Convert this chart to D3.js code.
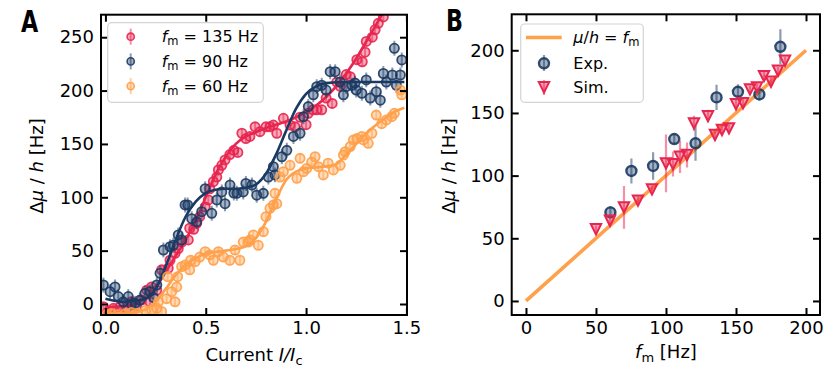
<!DOCTYPE html>
<html>
<head>
<meta charset="utf-8">
<script src="https://cdn.jsdelivr.net/npm/d3@7"></script>
<style>
  body { margin: 0; background: #fff; }
  text { font-family: "DejaVu Sans", sans-serif; }
</style>
</head>
<body>
<div id="viz"></div>
<script>
// panel A: Δμ/h vs current, three modulation frequencies  [x = I/Ic, y = Hz]
var red135 = [[-0.01,-2.5],[0.015,-7],[0.04,-4],[0.073,-2.5],[0.106,-4],[0.13,2],[0.156,-2.5],[0.18,3.7],
  [0.206,13],[0.222,2],[0.23,16],[0.256,13],[0.28,32],[0.313,33.5],[0.322,41],[0.347,47.5],[0.363,52],
  [0.38,58],[0.413,60],[0.42,71],[0.44,70],[0.455,75.6],[0.47,81.8],[0.497,91],[0.513,97.5],[0.52,108],
  [0.538,114.6],[0.555,119],[0.563,125.6],[0.58,130],[0.596,135],[0.62,140],[0.64,144],[0.66,142],
  [0.68,160],[0.70,155],[0.72,157],[0.746,166],[0.77,161.5],[0.80,166],[0.82,166],[0.837,167.7],
  [0.854,160],[0.887,174],[0.92,167.7],[0.945,166],[0.97,175],[1.0,168],[1.011,178.7],[1.035,182],
  [1.053,182],[1.078,182],[1.10,193],[1.13,188],[1.153,208],[1.17,204],[1.2,215],[1.22,213],[1.253,229],
  [1.28,227],[1.294,236],[1.30,246],[1.33,250],[1.344,257],[1.36,263],[1.385,269]];
var navy90 = [[-0.01,17.8],[0.023,11.5],[0.048,16],[0.064,7],[0.089,2],[0.114,7],[0.13,0],[0.148,0.6],
  [0.172,3.7],[0.197,10],[0.222,11.5],[0.24,6],[0.256,17.8],[0.272,28.8],[0.289,50.6],[0.322,53.7],
  [0.338,55],[0.363,64.7],[0.38,60],[0.397,92.8],[0.41,92.8],[0.43,80],[0.455,77],[0.48,86.5],[0.497,108],
  [0.53,85],[0.555,97.5],[0.58,105],[0.596,94],[0.621,111.5],[0.64,104],[0.655,103.7],[0.687,105],
  [0.70,113],[0.73,111.5],[0.754,102],[0.787,103.7],[0.812,119],[0.837,128.7],[0.845,121],[0.879,138],
  [0.904,144],[0.937,157],[0.97,160],[0.987,175.5],[1.011,185],[1.036,196],[1.053,203.7],[1.078,205],
  [1.10,200.5],[1.12,217.7],[1.145,217.7],[1.17,208],[1.186,196],[1.20,203.7],[1.228,205],[1.244,207],
  [1.25,200.5],[1.278,197.5],[1.30,210],[1.32,193],[1.35,199],[1.37,191],[1.385,216],[1.40,208],
  [1.43,214.6],[1.44,239.6],[1.45,205],[1.47,214.6],[1.477,228.7]];
var orange60 = [[0.006,-10],[0.03,-9],[0.06,-10],[0.1,-9],[0.13,-8],[0.16,-8.7],[0.2,-6],[0.23,-5.6],
  [0.256,-4],[0.264,2],[0.28,-7],[0.305,5],[0.31,25.6],[0.33,11.5],[0.347,2],[0.355,16],[0.36,25.6],
  [0.38,35],[0.397,36.5],[0.42,32],[0.425,41],[0.447,39.7],[0.47,44],[0.497,49],[0.52,46],[0.538,41],
  [0.563,49],[0.588,44],[0.62,41],[0.646,50.6],[0.67,41],[0.687,58],[0.712,58],[0.72,60],[0.737,64.7],
  [0.762,55],[0.787,67.8],[0.80,81.8],[0.82,89.7],[0.837,92.8],[0.845,103.7],[0.854,94],[0.87,119],
  [0.887,124],[0.92,130],[0.954,117.8],[0.97,136.5],[0.987,124],[1.003,127],[1.028,133],[1.045,138],
  [1.061,128.7],[1.086,121],[1.11,132],[1.136,125.6],[1.17,130],[1.186,139.6],[1.195,142.7],[1.22,147.5],
  [1.236,153.7],[1.253,155],[1.278,157],[1.286,153.7],[1.31,150.6],[1.328,160],[1.35,177],[1.377,169],
  [1.40,172.5],[1.427,175.5],[1.44,178.7],[1.47,200.5],[1.477,196]];
// fit curves
var red135Fit = [[0,-3],[0.1,-2],[0.17,2],[0.22,8],[0.25,15],[0.3,30],[0.35,45],[0.4,60],[0.45,78],[0.5,100],
  [0.55,122],[0.6,138],[0.65,150],[0.7,157],[0.75,161],[0.8,165],[0.85,168],[0.9,171],[0.95,175],[1.0,180],
  [1.05,186],[1.1,194],[1.15,204],[1.2,216],[1.25,230],[1.3,246],[1.35,262],[1.4,278]];
var navy90Fit = [[0,5],[0.1,2],[0.2,5],[0.25,14],[0.3,35],[0.35,60],[0.4,82],[0.45,96],[0.5,104],[0.55,107],
  [0.6,108],[0.65,108],[0.7,109],[0.75,112],[0.8,122],[0.85,140],[0.9,162],[0.95,183],[1.0,197],[1.05,204],
  [1.1,207],[1.2,208],[1.3,208],[1.4,208],[1.49,208]];
var orange60Fit = [[0,-9],[0.1,-9],[0.15,-8],[0.2,-5],[0.25,2],[0.3,14],[0.35,27],[0.4,37],[0.45,43],[0.5,47],
  [0.6,50],[0.7,54],[0.75,62],[0.8,77],[0.85,98],[0.9,116],[0.95,124],[1.0,127],[1.05,128],[1.1,129],
  [1.15,131],[1.2,140],[1.25,150],[1.3,160],[1.35,168],[1.4,175],[1.45,181],[1.49,184]];
var errA = { red: 4, navy: 7, orange: 4 };
var legendA = ['135', '90', '60'];
var ticksAx = [0, 0.5, 1.0, 1.5],
    ticksAy = [0, 50, 100, 150, 200, 250];

// panel B: Δμ/h vs f_m
var expF   = [60.3, 75.3, 90.8, 105.9, 121.1, 136.1, 151.4, 166.7, 181.7],
    expMu  = [70.7, 103.7, 107.7, 129.2, 125.8, 162.4, 166.9, 164.8, 202.8],
    expErr = [5, 10, 11, 4, 14, 10, 6, 5, 14];
var simF   = [50, 60, 70, 80, 90, 100, 105, 110, 115, 120, 130, 135, 140, 145, 150, 155, 160, 165, 170, 175, 180, 185],
    simMu  = [57.2, 64, 74.7, 80, 89, 109.8, 109.2, 115, 116.4, 141.7, 147.5, 132.4, 136.4, 137.7, 156.9, 157.7,
              168.8, 170.4, 179.4, 174.9, 183.7, 191.6],
    simErr = [3, 4, 17, 4, 3, 23, 10, 13, 10, 6, 5, 3, 3, 3, 4, 4, 3, 3, 4, 3, 3, 3];
var lineF = [0, 200];
var ticksBx = [0, 50, 100, 150, 200],
    ticksBy = [0, 50, 100, 150, 200];

var RED = '#E8254F', NAVY = '#1B3A63', ORANGE = '#FFA04A';

var svg = d3.select('#viz').append('svg')
    .attr('width', 829)
    .attr('height', 369);

var xA = d3.scaleLinear().domain([-0.022, 1.503]).range([101, 407]),
    yA = d3.scaleLinear().domain([-10.3, 271.1]).range([315, 14.7]),
    xB = d3.scaleLinear().domain([-10.2, 210]).range([511.7, 820]),
    yB = d3.scaleLinear().domain([-11.2, 228.7]).range([315, 14.3]);

function clipFor(id, x, y) {
    svg.append('clipPath').attr('id', id).append('rect')
        .attr('x', x.range()[0]).attr('y', y.range()[1])
        .attr('width', x.range()[1] - x.range()[0])
        .attr('height', y.range()[0] - y.range()[1]);
}
clipFor('clipA', xA, yA);
clipFor('clipB', xB, yB);

function frame(x, y, xt, yt, fmt) {
    var g = svg.append('g');
    var styleAxis = function (a) {
        a.select('.domain').remove();
        a.selectAll('line').attr('stroke', '#000').attr('stroke-width', 2);
        a.selectAll('text').attr('fill', '#000');
        a.attr('font-family', 'DejaVu Sans').attr('font-size', 18);
    };
    g.append('g').attr('transform', 'translate(0,' + y.range()[0] + ')')
        .call(d3.axisBottom(x).tickValues(xt).tickSize(-7).tickPadding(6).tickFormat(fmt)).call(styleAxis);
    g.append('g').attr('transform', 'translate(0,' + y.range()[1] + ')')
        .call(d3.axisTop(x).tickValues(xt).tickSize(-7).tickFormat('')).call(styleAxis);
    g.append('g').attr('transform', 'translate(' + x.range()[0] + ',0)')
        .call(d3.axisLeft(y).tickValues(yt).tickSize(-7).tickPadding(7)).call(styleAxis);
    g.append('g').attr('transform', 'translate(' + x.range()[1] + ',0)')
        .call(d3.axisRight(y).tickValues(yt).tickSize(-7).tickFormat('')).call(styleAxis);
    g.append('rect')
        .attr('x', x.range()[0]).attr('y', y.range()[1])
        .attr('width', x.range()[1] - x.range()[0])
        .attr('height', y.range()[0] - y.range()[1])
        .attr('fill', 'none').attr('stroke', '#000').attr('stroke-width', 2);
}

function errBars(g, pts, color, w) {
    g.selectAll(null).data(pts).enter().append('line')
        .attr('x1', function (d) { return d.x; }).attr('x2', function (d) { return d.x; })
        .attr('y1', function (d) { return d.y0; }).attr('y2', function (d) { return d.y1; })
        .attr('stroke', color).attr('stroke-opacity', 0.5).attr('stroke-width', w);
}

function circles(g, pts, color, r, sw) {
    g.selectAll(null).data(pts).enter().append('circle')
        .attr('cx', function (d) { return d.x; })
        .attr('cy', function (d) { return d.y; })
        .attr('r', r)
        .attr('fill', color).attr('fill-opacity', 0.38)
        .attr('stroke', color).attr('stroke-opacity', 0.9).attr('stroke-width', sw);
}

function triPath(s) {
    return 'M' + (-s) + ',' + (-s) + 'L' + s + ',' + (-s) + 'L0,' + s + 'Z';
}

function triangles(g, pts, color, s) {
    g.selectAll(null).data(pts).enter().append('path')
        .attr('d', triPath(s))
        .attr('transform', function (d) { return 'translate(' + d.x + ',' + d.y + ')'; })
        .attr('fill', color).attr('fill-opacity', 0.4)
        .attr('stroke', color).attr('stroke-width', 2).attr('stroke-linejoin', 'miter');
}

// ---------- panel A ----------
var plotA = svg.append('g').attr('clip-path', 'url(#clipA)');
var fitLine = d3.line()
    .x(function (d) { return xA(d[0]); })
    .y(function (d) { return yA(d[1]); })
    .curve(d3.curveMonotoneX);

var seriesA = [
    { data: red135, fit: red135Fit, color: RED, err: errA.red },
    { data: navy90, fit: navy90Fit, color: NAVY, err: errA.navy },
    { data: orange60, fit: orange60Fit, color: ORANGE, err: errA.orange }
];
seriesA.forEach(function (s) {
    var pts = s.data.map(function (d) {
        return { x: xA(d[0]), y: yA(d[1]), y0: yA(d[1] - s.err), y1: yA(d[1] + s.err) };
    });
    errBars(plotA, pts, s.color, 2);
    circles(plotA, pts, s.color, 4.6, 1.8);
    plotA.append('path').datum(s.fit)
        .attr('d', fitLine)
        .attr('fill', 'none').attr('stroke', s.color).attr('stroke-width', 2.6);
});

frame(xA, yA, ticksAx, ticksAy, d3.format('.1f'));

// legend A
var legA = svg.append('g');
legA.append('rect').attr('x', 107.7).attr('y', 22.7).attr('width', 155.6).attr('height', 79.6)
    .attr('rx', 4).attr('fill', '#fff').attr('fill-opacity', 0.8)
    .attr('stroke', '#d4d4d4').attr('stroke-width', 1.2);
[RED, NAVY, ORANGE].forEach(function (c, i) {
    var cy = 36.7 + i * 24.7;
    errBars(legA, [{ x: 130.7, y0: cy - 8, y1: cy + 8 }], c, 2);
    circles(legA, [{ x: 130.7, y: cy }], c, 3.6, 1.6);
    var t = legA.append('text').attr('x', 161.7).attr('y', cy).attr('dy', '0.36em').attr('font-size', 16);
    t.append('tspan').attr('font-style', 'italic').text('f');
    t.append('tspan').attr('font-size', 11.5).attr('baseline-shift', '-3').text('m');
    t.append('tspan').text(' = ' + legendA[i] + ' Hz');
});

// ---------- panel B ----------
var plotB = svg.append('g').attr('clip-path', 'url(#clipB)');
plotB.append('path').datum(lineF)
    .attr('d', d3.line().x(function (d) { return xB(d); }).y(function (d) { return yB(d); }))
    .attr('fill', 'none').attr('stroke', ORANGE).attr('stroke-width', 3.6);

var expPts = expF.map(function (f, i) {
    return { x: xB(f), y: yB(expMu[i]), y0: yB(expMu[i] - expErr[i]), y1: yB(expMu[i] + expErr[i]) };
});
var simPts = simF.map(function (f, i) {
    return { x: xB(f), y: yB(simMu[i]), y0: yB(simMu[i] - simErr[i]), y1: yB(simMu[i] + simErr[i]) };
});
errBars(plotB, expPts, NAVY, 2.2);
circles(plotB, expPts, NAVY, 5, 2.4);
errBars(plotB, simPts, RED, 2.2);
triangles(plotB, simPts, RED, 5.2);

frame(xB, yB, ticksBx, ticksBy, d3.format('d'));

// legend B
var legB = svg.append('g');
legB.append('rect').attr('x', 520.7).attr('y', 24).attr('width', 122.6).attr('height', 78.3)
    .attr('rx', 4).attr('fill', '#fff').attr('fill-opacity', 0.8)
    .attr('stroke', '#d4d4d4').attr('stroke-width', 1.2);
legB.append('line').attr('x1', 526).attr('x2', 561.7).attr('y1', 37.5).attr('y2', 37.5)
    .attr('stroke', ORANGE).attr('stroke-width', 3.6);
errBars(legB, [{ x: 544, y0: 55, y1: 71 }], NAVY, 2.2);
circles(legB, [{ x: 544, y: 63.3 }], NAVY, 5, 2.4);
errBars(legB, [{ x: 544, y0: 80, y1: 95 }], RED, 2.2);
triangles(legB, [{ x: 544, y: 87.3 }], RED, 5.2);
var tl = legB.append('text').attr('x', 573.3).attr('y', 37.5).attr('dy', '0.36em').attr('font-size', 16);
tl.append('tspan').attr('font-style', 'italic').text('μ');
tl.append('tspan').text('/');
tl.append('tspan').attr('font-style', 'italic').text('h');
tl.append('tspan').text(' = ');
tl.append('tspan').attr('font-style', 'italic').text('f');
tl.append('tspan').attr('font-size', 11.5).attr('baseline-shift', '-3').text('m');
legB.append('text').attr('x', 573.3).attr('y', 63.3).attr('dy', '0.36em').attr('font-size', 16).text('Exp.');
legB.append('text').attr('x', 573.3).attr('y', 87.3).attr('dy', '0.36em').attr('font-size', 16).text('Sim.');

// ---------- axis labels ----------
function yLabel(cx, cy) {
    var t = svg.append('text')
        .attr('transform', 'translate(' + cx + ',' + cy + ') rotate(-90)')
        .attr('text-anchor', 'middle').attr('dy', '0.36em').attr('font-size', 18);
    t.append('tspan').text('Δ');
    t.append('tspan').attr('font-style', 'italic').text('μ');
    t.append('tspan').text(' / ');
    t.append('tspan').attr('font-style', 'italic').text('h');
    t.append('tspan').text(' [Hz]');
}
yLabel(37, 166);
yLabel(449, 166);

var xl = svg.append('text').attr('x', 254).attr('y', 361).attr('text-anchor', 'middle').attr('font-size', 18);
xl.append('tspan').text('Current ');
xl.append('tspan').attr('font-style', 'italic').text('I/I');
xl.append('tspan').attr('font-size', 13).attr('baseline-shift', '-4').text('c');

var xlb = svg.append('text').attr('x', 666).attr('y', 358).attr('text-anchor', 'middle').attr('font-size', 18);
xlb.append('tspan').attr('font-style', 'italic').text('f');
xlb.append('tspan').attr('font-size', 13).attr('baseline-shift', '-4').text('m');
xlb.append('tspan').text(' [Hz]');

// panel letters (condensed bold)
svg.append('text').attr('transform', 'translate(21,31.5) scale(0.73,1)')
    .attr('font-family', '"Liberation Sans", Arial, sans-serif')
    .attr('font-weight', 'bold').attr('font-size', 30.5).text('A');
svg.append('text').attr('transform', 'translate(446,30.5) scale(0.73,1)')
    .attr('font-family', '"Liberation Sans", Arial, sans-serif')
    .attr('font-weight', 'bold').attr('font-size', 30.5).text('B');
</script>
</body>
</html>
